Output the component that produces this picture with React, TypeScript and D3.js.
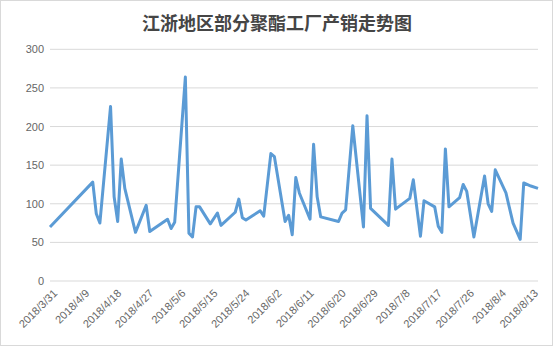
import React, { useEffect, useRef } from "react";
import * as d3 from "d3";

const title = "江浙地区部分聚酯工厂产销走势图";
const dates = [
  "2018-03-31", "2018-04-12", "2018-04-13", "2018-04-14", "2018-04-17", "2018-04-18", "2018-04-19", "2018-04-20",
  "2018-04-21", "2018-04-24", "2018-04-27", "2018-04-28", "2018-05-03", "2018-05-04", "2018-05-05", "2018-05-08",
  "2018-05-09", "2018-05-10", "2018-05-11", "2018-05-12", "2018-05-15", "2018-05-17", "2018-05-18", "2018-05-22",
  "2018-05-23", "2018-05-24", "2018-05-25", "2018-05-29", "2018-05-30", "2018-06-01", "2018-06-02", "2018-06-05",
  "2018-06-06", "2018-06-07", "2018-06-08", "2018-06-09", "2018-06-12", "2018-06-13", "2018-06-14", "2018-06-15",
  "2018-06-20", "2018-06-21", "2018-06-22", "2018-06-24", "2018-06-27", "2018-06-28", "2018-06-29", "2018-07-04",
  "2018-07-05", "2018-07-06", "2018-07-10", "2018-07-11", "2018-07-12", "2018-07-13", "2018-07-14", "2018-07-17",
  "2018-07-18", "2018-07-19", "2018-07-20", "2018-07-21", "2018-07-24", "2018-07-25", "2018-07-26", "2018-07-28",
  "2018-07-31", "2018-08-01", "2018-08-02", "2018-08-03", "2018-08-06", "2018-08-08", "2018-08-10", "2018-08-11",
  "2018-08-13", "2018-08-15",
];
const values = [
  70, 128, 87, 75, 226, 109, 77, 158,
  120, 63, 98, 64, 80, 68, 76, 264,
  62, 57, 96, 96, 74, 88, 72, 89,
  106, 82, 79, 91, 84, 165, 161, 77,
  85, 60, 134, 114, 80, 177, 109, 83,
  77, 88, 92, 201, 70, 214, 94, 72,
  158, 93, 107, 131, 94, 58, 104, 96,
  71, 63, 171, 96, 108, 125, 116, 57,
  136, 100, 90, 144, 114, 75, 54, 127,
  123, 120,
];
const yTicks = [0, 50, 100, 150, 200, 250, 300];
const xTickLabels = [
  "2018/3/31", "2018/4/9", "2018/4/18", "2018/4/27", "2018/5/6", "2018/5/15", "2018/5/24", "2018/6/2",
  "2018/6/11", "2018/6/20", "2018/6/29", "2018/7/8", "2018/7/17", "2018/7/26", "2018/8/4", "2018/8/13",
];

const W = 554, H = 347;
const parse = d3.timeParse("%Y-%m-%d");
const parseLabel = d3.timeParse("%Y/%m/%d");

export default function App() {
  const ref = useRef<SVGSVGElement>(null);
  useEffect(() => {
    const svg = d3.select(ref.current);
    svg.selectAll("*").remove();
    const x = d3.scaleTime()
      .domain([parse("2018-03-31")!, parse("2018-08-15")!])
      .range([50, 538]);
    const y = d3.scaleLinear().domain([0, 300]).range([281, 49.3]);

    svg.append("rect").attr("x", 0.5).attr("y", 0.5).attr("width", W - 2).attr("height", H - 2)
      .attr("fill", "#fff").attr("stroke", "#d9d9d9");

    svg.append("text").attr("x", 277).attr("y", 30).attr("text-anchor", "middle")
      .attr("font-family", "'Noto Sans CJK SC'").attr("font-size", 18).attr("font-weight", "bold")
      .attr("fill", "#454545").text(title);

    const g = svg.append("g");
    g.selectAll("line.grid").data(yTicks).enter().append("line")
      .attr("x1", 50).attr("x2", 538)
      .attr("y1", (d) => y(d)).attr("y2", (d) => y(d))
      .attr("stroke", "#d9d9d9").attr("stroke-width", 1);
    g.selectAll("text.yl").data(yTicks).enter().append("text")
      .attr("x", 44).attr("y", (d) => y(d) + 4).attr("text-anchor", "end")
      .attr("font-family", "'Liberation Sans', Arial, sans-serif").attr("font-size", 11)
      .attr("fill", "#666").text((d) => String(d));

    g.selectAll("text.xl").data(xTickLabels).enter().append("text")
      .attr("transform", (d) => `translate(${x(parseLabel(d)!) + 8},${294}) rotate(-45)`)
      .attr("text-anchor", "end")
      .attr("font-family", "'Liberation Sans', Arial, sans-serif").attr("font-size", 11)
      .attr("fill", "#666").text((d) => d);

    const data = dates.map((d, i) => ({ d: parse(d)!, v: values[i] }));
    const line = d3.line<{ d: Date; v: number }>().x((p) => x(p.d)).y((p) => y(p.v));
    g.append("path").datum(data).attr("d", line).attr("fill", "none")
      .attr("stroke", "#5b9bd5").attr("stroke-width", 3).attr("stroke-linejoin", "round");
  }, []);
  return (
    <svg ref={ref} width={W} height={H} style={{ position: "absolute", left: 0, top: 0, background: "#fff" }} />
  );
}
